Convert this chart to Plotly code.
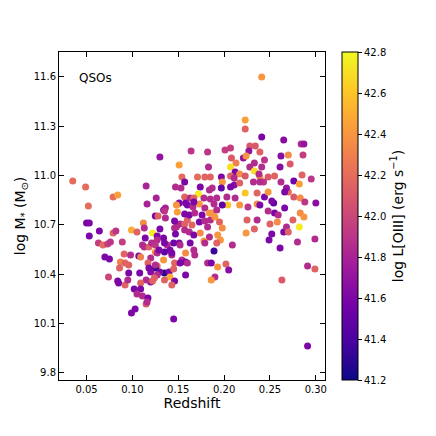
import plotly.graph_objects as go

redshift = [0.035,0.049,0.052,0.079,0.084,0.115,0.126,0.116,0.130,0.151,0.154,0.157,0.147,0.153,0.157,0.164,0.150,0.151,0.158,0.163,
0.136,0.134,0.149,0.125,0.128,0.050,0.053,0.053,0.064,0.079,0.082,0.063,0.068,0.073,0.076,0.089,0.070,0.075,0.091,0.087,
0.086,0.074,0.084,0.085,0.092,0.096,0.099,0.105,0.112,0.113,0.114,0.122,0.127,0.130,0.135,0.152,0.146,0.157,0.147,0.160,
0.098,0.107,0.109,0.120,0.117,0.125,0.127,0.113,0.118,0.121,0.127,0.134,0.138,0.145,0.151,0.141,0.135,0.158,0.154,0.158,
0.146,0.134,0.143,0.127,0.125,0.135,0.130,0.120,0.118,0.140,0.145,0.141,0.127,0.124,0.135,0.146,0.143,0.120,0.115,0.108,
0.096,0.095,0.109,0.102,0.109,0.105,0.111,0.117,0.115,0.103,0.099,0.145,0.158,0.116,0.111,0.125,0.129,0.135,0.148,0.157,
0.165,0.162,0.167,0.174,0.184,0.178,0.152,0.163,0.167,0.143,0.125,0.152,0.122,0.092,0.182,0.171,0.179,0.185,0.174,0.184,
0.172,0.167,0.178,0.185,0.148,0.160,0.166,0.173,0.179,0.136,0.157,0.162,0.168,0.176,0.184,0.146,0.173,0.179,0.185,0.241,
0.223,0.223,0.241,0.265,0.284,0.287,0.182,0.201,0.207,0.228,0.234,0.227,0.239,0.262,0.270,0.286,0.208,0.221,0.224,0.244,
0.213,0.233,0.272,0.261,0.183,0.207,0.228,0.241,0.233,0.212,0.207,0.217,0.197,0.211,0.223,0.239,0.248,0.285,0.295,0.262,
0.276,0.282,0.198,0.211,0.217,0.232,0.243,0.197,0.223,0.236,0.244,0.270,0.268,0.276,0.283,0.288,0.300,0.254,0.266,0.252,
0.204,0.217,0.226,0.236,0.239,0.198,0.167,0.189,0.187,0.192,0.283,0.238,0.255,0.239,0.187,0.207,0.248,0.266,0.192,0.203,
0.212,0.255,0.248,0.259,0.275,0.287,0.190,0.195,0.236,0.258,0.225,0.282,0.299,0.280,0.261,0.249,0.252,0.265,0.268,0.270,
0.250,0.233,0.224,0.209,0.196,0.192,0.189,0.186,0.193,0.202,0.205,0.190,0.186,0.168,0.160,0.291,0.291,0.299,0.263,0.182,
0.198,0.179,0.193]

log_mstar = [10.967,10.931,10.815,10.870,10.882,10.937,10.864,10.828,11.113,11.065,10.992,10.961,10.931,10.925,10.870,11.150,10.828,10.834,10.834,10.864,
10.803,10.791,10.779,10.755,10.755,10.712,10.712,10.633,10.663,10.651,10.663,10.590,10.578,10.584,10.596,10.596,10.505,10.493,10.523,10.475,
10.438,10.384,10.359,10.347,10.335,10.457,10.669,10.657,10.712,10.682,10.621,10.651,10.633,10.676,10.785,10.706,10.682,10.706,10.645,10.730,
10.517,10.511,10.505,10.499,10.469,10.536,10.530,10.566,10.566,10.590,10.609,10.621,10.578,10.590,10.590,10.548,10.536,10.530,10.487,10.475,
10.469,10.487,10.517,10.450,10.438,10.408,10.414,10.414,10.438,10.414,10.432,10.384,10.396,10.378,10.365,10.359,10.335,10.353,10.365,10.408,
10.408,10.365,10.347,10.311,10.311,10.280,10.268,10.256,10.219,10.189,10.165,10.128,10.396,10.232,10.578,10.578,10.548,10.590,10.688,10.669,
10.700,10.657,10.639,10.651,10.627,10.603,10.578,10.590,10.548,10.530,10.457,10.469,10.359,10.469,10.469,10.992,10.992,10.992,10.931,10.913,
10.888,10.864,10.864,10.858,10.822,10.822,10.809,10.828,10.803,10.742,10.767,10.761,10.773,10.761,10.773,10.724,10.718,10.724,10.730,11.600,
11.338,11.284,11.235,11.217,11.193,11.193,11.144,11.156,11.168,11.180,11.180,11.150,11.144,11.120,11.126,11.126,11.107,11.107,11.120,11.095,
11.077,11.077,11.071,11.053,11.053,11.053,11.053,11.053,11.028,11.022,10.998,11.010,10.992,10.986,10.998,10.992,10.992,11.004,10.980,10.961,
10.967,10.949,10.961,10.943,10.955,10.961,10.961,10.925,10.894,10.894,10.870,10.901,10.925,10.870,10.864,10.840,10.834,10.834,10.803,10.846,
10.822,10.822,10.809,10.828,10.822,10.822,10.840,10.828,10.773,10.791,10.773,11.010,10.998,10.961,10.925,10.931,10.901,10.901,10.864,10.870,
10.864,10.773,10.785,10.761,10.730,10.749,10.749,10.718,10.730,10.718,10.730,10.688,10.615,10.596,10.560,10.609,10.645,10.657,10.688,10.657,
10.706,10.676,10.651,10.578,10.609,10.590,10.542,10.469,10.444,10.463,10.426,10.384,10.365,10.517,10.469,9.964,10.450,10.432,10.365,10.688,
10.682,10.590,10.639]

log_loiii = [42.2,42.2,42.2,42.2,42.45,41.8,41.8,41.8,41.7,42.45,42.2,41.6,41.85,41.85,42.15,41.9,42.4,41.6,41.6,41.85,
41.8,41.7,42.45,41.6,42.15,41.6,41.6,41.6,41.6,42.15,41.9,41.95,42.2,41.95,41.9,41.95,41.6,41.6,42.15,42.3,
42.15,42.0,41.6,41.6,42.15,42.15,42.5,42.15,42.35,41.85,41.6,42.75,41.6,41.6,41.9,41.85,41.85,42.15,41.6,42.15,
41.85,41.6,42.3,41.85,42.15,42.4,41.85,41.85,42.15,41.85,41.85,41.6,41.85,41.55,41.6,41.6,41.5,42.35,41.85,41.6,
42.15,42.4,41.85,42.15,41.3,41.25,41.6,41.65,41.6,41.6,42.15,42.5,41.85,42.15,42.15,41.6,42.15,41.6,41.85,41.6,
41.6,41.85,42.15,41.6,41.6,41.85,41.85,41.6,42.1,41.6,41.6,41.6,41.6,41.85,41.85,41.9,41.6,41.6,41.85,41.85,
42.15,41.85,41.6,42.35,41.85,42.4,41.85,41.6,41.85,41.6,41.85,41.6,42.15,42.15,41.85,42.2,42.15,42.15,41.6,41.85,
42.75,42.15,41.85,41.85,42.4,41.6,41.85,42.4,41.85,41.85,41.6,41.6,41.85,41.6,42.4,41.6,41.6,41.85,41.85,42.4,
42.45,42.15,41.6,41.65,41.85,41.7,41.9,41.95,41.95,42.1,42.1,41.7,42.15,41.65,42.35,41.95,42.1,41.7,42.4,41.9,
42.3,41.85,42.1,41.65,41.85,42.7,41.85,41.85,42.7,41.6,42.15,42.35,41.6,41.85,42.1,42.35,42.1,42.15,41.9,41.85,
41.55,42.45,42.4,41.65,42.15,41.85,41.9,41.5,42.6,42.15,41.6,42.2,41.7,42.1,42.35,41.9,41.65,41.5,41.6,41.6,
42.6,42.4,41.9,42.35,41.6,41.5,41.6,41.85,42.4,41.85,42.35,41.85,42.15,41.85,41.85,41.6,42.4,41.6,41.85,41.85,
41.85,41.6,41.85,41.85,42.15,42.4,42.4,42.15,41.85,42.35,42.15,42.75,41.85,41.85,41.6,41.6,41.6,41.6,41.85,42.15,
42.15,42.15,42.4,41.85,42.4,42.15,41.35,41.6,42.4,42.15,41.65,41.85,42.4,41.85,41.85,41.6,41.85,42.15,42.1,41.85,
42.35,41.85,42.4]

x_ticks = [0.05, 0.10, 0.15, 0.20, 0.25, 0.30]
x_ticklabels = ["0.05", "0.10", "0.15", "0.20", "0.25", "0.30"]
y_ticks = [9.8, 10.1, 10.4, 10.7, 11.0, 11.3, 11.6]
y_ticklabels = ["9.8", "10.1", "10.4", "10.7", "11.0", "11.3", "11.6"]
cb_ticks = [41.2, 41.4, 41.6, 41.8, 42.0, 42.2, 42.4, 42.6, 42.8]
cb_ticklabels = ["41.2", "41.4", "41.6", "41.8", "42.0", "42.2", "42.4", "42.6", "42.8"]

FONT = "DejaVu Sans"

fig = go.Figure(go.Scatter(
    x=redshift, y=log_mstar, mode="markers",
    marker=dict(
        size=7, color=log_loiii, colorscale="Plasma", cmin=41.2, cmax=42.8,
        line=dict(width=0),
        colorbar=dict(
            x=1.063, xanchor="left", xpad=0, y=0.5, yanchor="middle", len=1, lenmode="fraction",
            thickness=16, thicknessmode="pixels", ypad=0,
            outlinecolor="black", outlinewidth=1,
            tickvals=cb_ticks, ticktext=cb_ticklabels, ticks="outside", ticklen=4,
            tickcolor="black", tickfont=dict(family=FONT, size=10, color="black"),
            title=dict(text="log L[OIII] (erg s<sup>−1</sup>)", side="right",
                       font=dict(family=FONT, size=14, color="black")),
        ),
    ),
    showlegend=False, hoverinfo="skip",
))

axis_common = dict(
    showline=True, linecolor="black", linewidth=1, mirror="allticks",
    ticks="inside", ticklen=5, tickcolor="black", tickwidth=1,
    showgrid=False, zeroline=False,
    tickfont=dict(family=FONT, size=10, color="black"),
)

fig.update_layout(
    width=436, height=436,
    margin=dict(l=47, r=119, t=44, b=64),
    paper_bgcolor="white", plot_bgcolor="white",
    font=dict(family=FONT, color="black"),
    xaxis=dict(range=[0.02, 0.31], tickvals=x_ticks, ticktext=x_ticklabels,
               title=dict(text="Redshift", font=dict(family=FONT, size=14), standoff=2),
               **axis_common),
    yaxis=dict(range=[9.757, 11.752], tickvals=y_ticks, ticktext=y_ticklabels,
               title=dict(text="log M<sub>*</sub> (M<sub>⊙</sub>)", font=dict(family=FONT, size=14), standoff=4),
               **axis_common),
    annotations=[dict(text="QSOs", xref="paper", yref="paper", x=0.066, y=0.92,
                      xanchor="left", yanchor="middle", showarrow=False,
                      font=dict(family=FONT, size=12, color="black"))],
)

fig.write_html("out.html")
